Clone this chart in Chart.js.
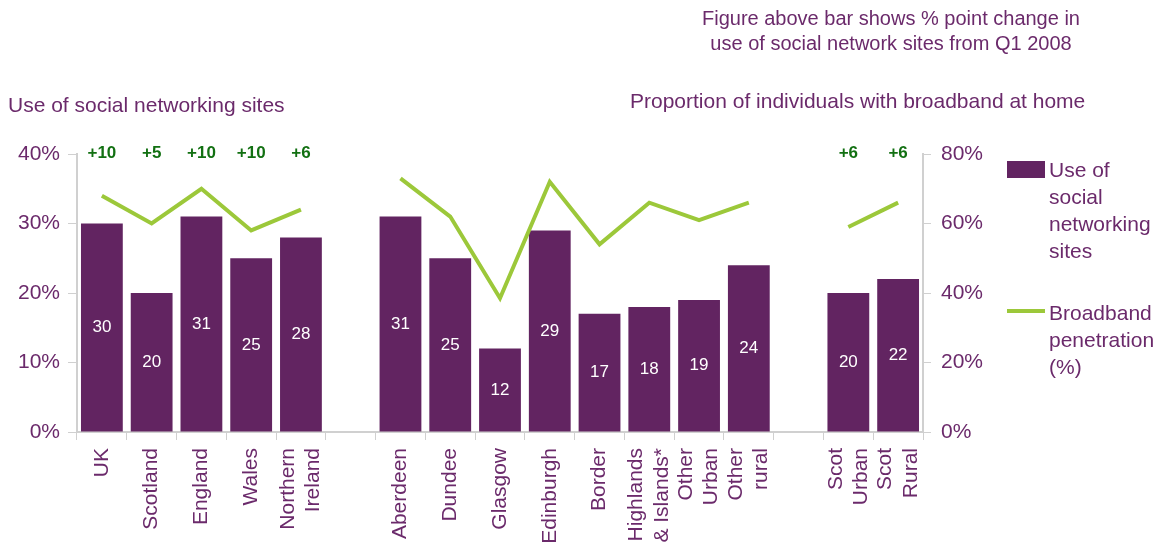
<!DOCTYPE html>
<html>
<head>
<meta charset="utf-8">
<script src="https://cdn.jsdelivr.net/npm/chart.js@4/dist/chart.umd.min.js"></script>
<style>
  body { margin: 0; background: #fff; font-family: "Liberation Sans", Arial, sans-serif; }
  #wrap { position: relative; width: 1163px; height: 546px; }
  .txt { position: absolute; color: #6b2a6b; font-size: 21px; line-height: 25px; white-space: nowrap; }
  .leg { position: absolute; color: #6b2a6b; font-size: 21px; line-height: 27px; }
</style>
</head>
<body>
<div id="wrap">
  <canvas id="grafico" width="1163" height="546"></canvas>
  <div class="txt" style="left:0; width:1782px; top:6px; text-align:center; font-size:20px;">
    Figure above bar shows % point change in<br>use of social network sites from Q1 2008
  </div>
  <div class="txt" style="left:8px; top:92px;">Use of social networking sites</div>
  <div class="txt" style="left:630px; top:88px;">Proportion of individuals with broadband at home</div>
  <div style="position:absolute; left:1007px; top:161px; width:38px; height:17px; background:#622461;"></div>
  <div class="leg" style="left:1049px; top:156px;">Use of<br>social<br>networking<br>sites</div>
  <div style="position:absolute; left:1007px; top:309px; width:38px; height:4px; background:#9cc83a;"></div>
  <div class="leg" style="left:1049px; top:299px;">Broadband<br>penetration<br>(%)</div>
</div>
<script>
const categorias = [
  "UK", "Scotland", "England", "Wales", ["Northern", "Ireland"], "",
  "Aberdeen", "Dundee", "Glasgow", "Edinburgh", "Border", ["Highlands", "& Islands*"],
  ["Other", "Urban"], ["Other", "rural"], "", ["Scot", "Urban"], ["Scot", "Rural"]
];
const usoRedes = [30, 20, 31, 25, 28, null, 31, 25, 12, 29, 17, 18, 19, 24, null, 20, 22];
const banda = [68, 60, 70, 58, 64, null, 73, 62, 38.5, 72, 54, 66, 61, 66, null, 59, 66];
const cambios = ["+10", "+5", "+10", "+10", "+6", "", "", "", "", "", "", "", "", "", "", "+6", "+6"];
const ticksIzq = [0, 10, 20, 30, 40];
const ticksDer = [0, 20, 40, 60, 80];

const MORADO = "#622461";
const TEXTO = "#6b2a6b";
const VERDE = "#9cc83a";
const GRIS = "#d0d0d0";
const FUENTE = "'Liberation Sans', Arial, sans-serif";

// centra las etiquetas de varias lineas sobre su categoria
const centrarEtiquetas = {
  id: "centrarEtiquetas",
  beforeDraw(chart) {
    const escala = chart.scales.x;
    const items = escala.getLabelItems();
    items.forEach(it => {
      if (Array.isArray(it.label) && it.label.length > 1) {
        const alto = it.font.lineHeight;
        it.options.translation[0] -= (it.label.length - 1) * alto / 2;
      }
    });
  }
};

const etiquetas = {
  id: "etiquetas",
  afterDatasetsDraw(chart) {
    const ctx = chart.ctx;
    const barras = chart.getDatasetMeta(1).data;
    ctx.save();
    ctx.textAlign = "center";
    ctx.textBaseline = "middle";
    barras.forEach((b, i) => {
      if (usoRedes[i] == null) return;
      ctx.fillStyle = "#ffffff";
      ctx.font = "17px " + FUENTE;
      ctx.fillText(String(usoRedes[i]), b.x, (b.y + b.base) / 2);
    });
    barras.forEach((b, i) => {
      if (!cambios[i]) return;
      ctx.fillStyle = "#127012";
      ctx.font = "bold 17px " + FUENTE;
      ctx.fillText(cambios[i], b.x, chart.chartArea.top - 1);
    });
    ctx.restore();
  }
};

new Chart(document.getElementById("grafico"), {
  type: "bar",
  data: {
    labels: categorias,
    datasets: [
      {
        type: "line",
        label: "Broadband penetration (%)",
        data: banda,
        yAxisID: "y1",
        borderColor: VERDE,
        borderWidth: 4,
        pointRadius: 0,
        tension: 0,
        spanGaps: false,
        order: 0
      },
      {
        label: "Use of social networking sites",
        data: usoRedes,
        yAxisID: "y",
        backgroundColor: MORADO,
        barPercentage: 0.84,
        categoryPercentage: 1,
        order: 1
      }
    ]
  },
  options: {
    responsive: false,
    animation: false,
    layout: { padding: { top: 154, left: 0, right: 0, bottom: 0 } },
    plugins: { legend: { display: false }, tooltip: { enabled: false } },
    scales: {
      x: {
        grid: { drawOnChartArea: false, color: GRIS, tickLength: 8, offset: true },
        border: { color: GRIS, width: 2 },
        ticks: {
          autoSkip: false, minRotation: 90, maxRotation: 90, padding: 8,
          color: TEXTO, font: { size: 21, family: FUENTE }
        },
        afterFit(s) { s.height = 114; }
      },
      y: {
        position: "left",
        min: 0, max: 40,
        afterBuildTicks(s) { s.ticks = ticksIzq.map(v => ({ value: v })); },
        grid: { drawOnChartArea: false, color: GRIS, tickLength: 9 },
        border: { color: GRIS, width: 2 },
        ticks: { color: TEXTO, padding: 8, font: { size: 21, family: FUENTE }, callback: v => v + "%" },
        afterFit(s) { s.width = 77; }
      },
      y1: {
        position: "right",
        min: 0, max: 80,
        afterBuildTicks(s) { s.ticks = ticksDer.map(v => ({ value: v })); },
        grid: { drawOnChartArea: false, color: GRIS, tickLength: 8 },
        border: { color: GRIS, width: 2 },
        ticks: { color: TEXTO, padding: 10, font: { size: 21, family: FUENTE }, callback: v => v + "%" },
        afterFit(s) { s.width = 240; }
      }
    }
  },
  plugins: [centrarEtiquetas, etiquetas]
});
</script>
</body>
</html>
